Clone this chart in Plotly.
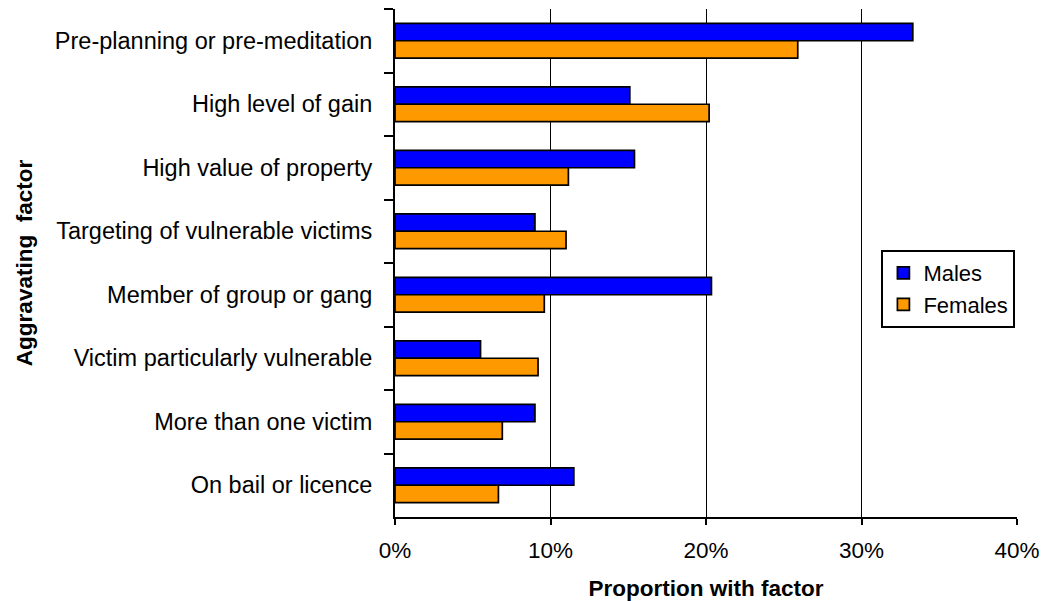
import plotly.graph_objects as go

categories = [
    "Pre-planning or pre-meditation",
    "High level of gain",
    "High value of property",
    "Targeting of vulnerable victims",
    "Member of group or gang",
    "Victim particularly vulnerable",
    "More than one victim",
    "On bail or licence",
]
males = [33.3, 15.1, 15.4, 9.0, 20.35, 5.5, 9.0, 11.5]
females = [25.9, 20.2, 11.15, 11.0, 9.6, 9.2, 6.9, 6.65]
x_ticks = [0, 10, 20, 30, 40]
x_tick_labels = ["0%", "10%", "20%", "30%", "40%"]

FONT = "Liberation Sans, Arial, sans-serif"

fig = go.Figure()
fig.add_trace(go.Bar(
    name="Males", y=categories, x=males, orientation="h",
    marker=dict(color="#0000FF", line=dict(color="black", width=1.7)),
))
fig.add_trace(go.Bar(
    name="Females", y=categories, x=females, orientation="h",
    marker=dict(color="#FF9900", line=dict(color="black", width=1.7)),
))

fig.update_layout(
    width=1042, height=601,
    margin=dict(l=395, r=25, t=9, b=84),
    paper_bgcolor="white", plot_bgcolor="white",
    barmode="group", bargap=0.45, bargroupgap=0,
    font=dict(family=FONT, size=22, color="black"),
    showlegend=True,
    legend=dict(
        x=0.782, y=0.5255, xanchor="left", yanchor="top",
        bordercolor="black", borderwidth=2, bgcolor="white",
        font=dict(size=22), itemwidth=30,
        tracegroupgap=0,
    ),
)

fig.update_xaxes(
    range=[0, 40], tickvals=x_ticks, ticktext=x_tick_labels,
    showgrid=True, gridcolor="black", gridwidth=1,
    showline=True, linecolor="black", linewidth=2,
    ticks="outside", ticklen=6, tickcolor="black", tickwidth=2,
    tickfont=dict(size=22.5),
    ticklabelstandoff=6,
    zeroline=False, fixedrange=True,
    title=dict(text="<b>Proportion with factor</b>", font=dict(size=22.5), standoff=18),
    automargin=False,
)
fig.update_yaxes(
    categoryorder="array", categoryarray=categories, autorange="reversed",
    showline=True, linecolor="black", linewidth=2,
    ticks="outside", ticklen=9, tickcolor="black", tickwidth=2,
    tickson="boundaries", showgrid=False, zeroline=False,
    tickfont=dict(size=23.5),
    ticklabelstandoff=16,
    fixedrange=True,
    title=dict(text="<b>Aggravating  factor</b>", font=dict(size=22.5), standoff=16),
    automargin=False,
)

fig.write_html(
    "out.html",
    config={"displayModeBar": False},
    post_script="document.body.style.margin='0';document.body.style.overflow='hidden';",
)
